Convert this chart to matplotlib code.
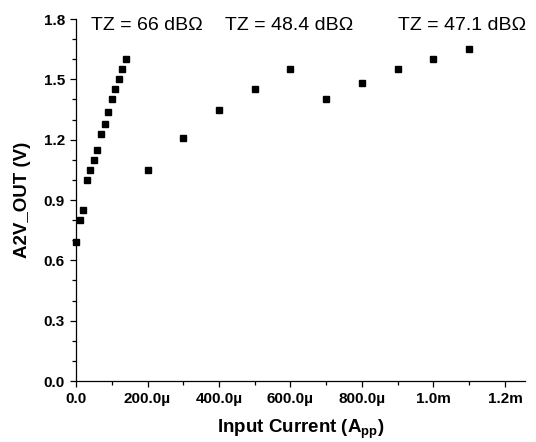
import matplotlib
matplotlib.use("Agg")
import matplotlib.pyplot as plt
from matplotlib.ticker import FixedLocator, FixedFormatter, MultipleLocator

plt.rcParams['font.family'] = ['Liberation Sans', 'DejaVu Sans']
plt.rcParams['mathtext.fontset'] = 'custom'
plt.rcParams['mathtext.rm'] = 'Liberation Sans'
plt.rcParams['mathtext.bf'] = 'Liberation Sans:bold'

# Input current in µA, output in V
x_fast = [0, 10, 20, 30, 40, 50, 60, 70, 80, 90, 100, 110, 120, 130, 140]
y_fast = [0.69, 0.80, 0.85, 1.00, 1.05, 1.10, 1.15, 1.23, 1.28, 1.34, 1.40, 1.45, 1.50, 1.55, 1.60]
x_slow = [200, 300, 400, 500, 600, 700, 800, 900, 1000, 1100]
y_slow = [1.05, 1.21, 1.35, 1.45, 1.55, 1.40, 1.48, 1.55, 1.60, 1.65]

x_ticks = [0, 200, 400, 600, 800, 1000, 1200]
x_tick_labels = ['0.0', '200.0µ', '400.0µ', '600.0µ', '800.0µ', '1.0m', '1.2m']
y_ticks = [0.0, 0.3, 0.6, 0.9, 1.2, 1.5, 1.8]
y_tick_labels = ['0.0', '0.3', '0.6', '0.9', '1.2', '1.5', '1.8']

annotations = ['TZ = 66 dBΩ', 'TZ = 48.4 dBΩ', 'TZ = 47.1 dBΩ']
ann_x = [42, 417, 901]
ann_y = 1.77

fig = plt.figure(figsize=(5.36, 4.42), dpi=100)
ax = fig.add_axes([0.1418, 0.138, 0.9795 - 0.1418, 0.957 - 0.138])

ax.plot(x_fast, y_fast, 's', color='black', markersize=5, clip_on=False)
ax.plot(x_slow, y_slow, 's', color='black', markersize=5, clip_on=False)

ax.set_xlim(0, 1256)
ax.set_ylim(0, 1.8)

ax.xaxis.set_major_locator(FixedLocator(x_ticks))
ax.xaxis.set_major_formatter(FixedFormatter(x_tick_labels))
ax.xaxis.set_minor_locator(MultipleLocator(100))
ax.yaxis.set_major_locator(FixedLocator(y_ticks))
ax.yaxis.set_major_formatter(FixedFormatter(y_tick_labels))
ax.yaxis.set_minor_locator(MultipleLocator(0.1))

for s in ['top', 'right']:
    ax.spines[s].set_visible(False)
for s in ['left', 'bottom']:
    ax.spines[s].set_linewidth(0.9)

ax.tick_params(which='major', direction='out', length=4.5, width=0.9, labelsize=11)
ax.tick_params(which='minor', direction='out', length=3, width=0.9)
for lab in ax.get_xticklabels() + ax.get_yticklabels():
    lab.set_fontweight('bold')

ax.set_xlabel(r'Input Current (A$_{\mathbf{pp}}$)', fontsize=13.5, fontweight='bold', labelpad=8)
ax.set_ylabel('A2V_OUT (V)', fontsize=13.5, fontweight='bold', labelpad=9)

for t, xx in zip(annotations, ann_x):
    ax.text(xx, ann_y, t, fontsize=14, ha='left', va='center', clip_on=False)

fig.savefig('out.png', dpi=100)
